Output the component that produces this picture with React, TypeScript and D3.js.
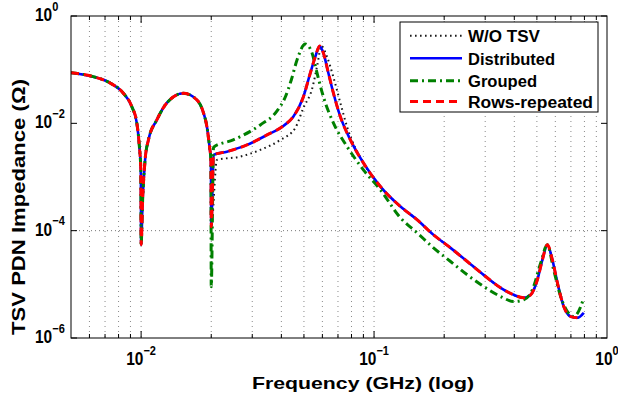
import React from "react";
import * as d3 from "d3";

const W = 618;
const H = 395;

const X_DOMAIN = [0.005, 1];
const Y_DOMAIN = [1e-6, 1];

const xTickValues = [0.01, 0.1, 1];
const xTickExponents = ["\u22122", "\u22121", "0"];
const yTickValues = [1, 1e-2, 1e-4, 1e-6];
const yTickExponents = ["0", "\u22122", "\u22124", "\u22126"];

const xTitle = "Frequency (GHz) (log)";
const yTitle = "TSV PDN Impedance (\u03A9)";

const seriesNames = ["W/O TSV", "Distributed", "Grouped", "Rows-repeated"];

// shared low-frequency part (all structures coincide below 20 MHz)
const commonFreq = [0.005, 0.00622, 0.00736, 0.00837, 0.00912, 0.00958, 0.00983, 0.00997, 0.01, 0.01015, 0.0104, 0.01075, 0.01168, 0.0129, 0.0152, 0.01735, 0.01853, 0.01916, 0.01966, 0.01993];
const commonZ = [0.0879, 0.0741, 0.0565, 0.0368, 0.0205, 0.0102, 0.00368, 0.00136, 5.5e-5, 3.75e-4, 0.00208, 0.00491, 0.0116, 0.024, 0.0363, 0.0273, 0.0156, 0.00868, 0.00368, 0.00208];

const woTsvFreq = [0.02, 0.02115, 0.02665, 0.03248, 0.03958, 0.04592, 0.0497, 0.05433, 0.05708, 0.0594, 0.06284, 0.06689, 0.07167, 0.0766, 0.09, 0.1065, 0.1299, 0.1532, 0.18, 0.213, 0.2513, 0.2953, 0.3495, 0.3975, 0.4388, 0.4702, 0.5024, 0.528, 0.5546, 0.5828, 0.6125, 0.652, 0.6985, 0.7464, 0.7946];
const woTsvZ = [1.18e-4, 0.00208, 0.0024, 0.0032, 0.00491, 0.00821, 0.01935, 0.0456, 0.1224, 0.2762, 0.1724, 0.0731, 0.024, 0.00857, 0.00183, 6.63e-4, 2.81e-4, 1.59e-4, 8.35e-5, 4.78e-5, 2.66e-5, 1.5e-5, 8.61e-6, 6.38e-6, 5.61e-6, 6.38e-6, 1.21e-5, 2.86e-5, 5.44e-5, 2.86e-5, 1.07e-5, 3.86e-6, 2.51e-6, 2.38e-6, 2.95e-6];

const distributedFreq = [0.02, 0.02046, 0.02335, 0.02847, 0.03471, 0.04077, 0.045, 0.0497, 0.05326, 0.05597, 0.05841, 0.06059, 0.06366, 0.06689, 0.07167, 0.07914, 0.09, 0.1065, 0.1299, 0.1532, 0.18, 0.213, 0.2513, 0.2953, 0.3495, 0.3975, 0.4388, 0.4702, 0.5024, 0.528, 0.5546, 0.5828, 0.6125, 0.652, 0.6985, 0.7464, 0.7946];
const distributedZ = [1.18e-4, 0.00258, 0.00297, 0.00396, 0.00608, 0.00894, 0.0133, 0.031, 0.0868, 0.1746, 0.2762, 0.2046, 0.0868, 0.0368, 0.0133, 0.00491, 0.00183, 6.63e-4, 2.81e-4, 1.59e-4, 8.35e-5, 4.78e-5, 2.66e-5, 1.5e-5, 8.61e-6, 6.38e-6, 5.61e-6, 6.38e-6, 1.21e-5, 2.86e-5, 5.44e-5, 2.86e-5, 1.07e-5, 3.86e-6, 2.51e-6, 2.38e-6, 2.95e-6];

const groupedFreq = [0.02, 0.02046, 0.02485, 0.03248, 0.03833, 0.04159, 0.04412, 0.04669, 0.0507, 0.05416, 0.05691, 0.06059, 0.06689, 0.0766, 0.09, 0.1065, 0.1299, 0.1532, 0.18, 0.213, 0.2513, 0.2953, 0.3495, 0.3975, 0.4388, 0.4783, 0.5192, 0.5546, 0.5903, 0.6328, 0.6762, 0.7196, 0.7714, 0.7946];
const groupedZ = [9.0e-6, 0.00359, 0.00491, 0.00934, 0.017, 0.031, 0.0643, 0.1516, 0.3011, 0.2046, 0.0868, 0.0314, 0.0102, 0.00368, 0.00136, 5.75e-4, 1.73e-4, 9.1e-5, 4.78e-5, 2.66e-5, 1.5e-5, 9.1e-6, 5.93e-6, 4.78e-6, 5.14e-6, 7.9e-6, 2.51e-5, 5.44e-5, 1.86e-5, 5.93e-6, 3.11e-6, 2.51e-6, 3.86e-6, 5.61e-6];

const rowsFreq = [0.02, 0.02046, 0.02335, 0.02847, 0.03471, 0.04077, 0.045, 0.0497, 0.05326, 0.05597, 0.05841, 0.06059, 0.06366, 0.06689, 0.07167, 0.07914, 0.09, 0.1065, 0.1299, 0.1532, 0.18, 0.213, 0.2513, 0.2953, 0.3495, 0.3975, 0.4388, 0.4702, 0.5024, 0.528, 0.5546, 0.5828, 0.6125, 0.652, 0.6985, 0.7464];
const rowsZ = [1.18e-4, 0.00258, 0.00297, 0.00396, 0.00608, 0.00894, 0.0133, 0.031, 0.0868, 0.1746, 0.2762, 0.2046, 0.0868, 0.0368, 0.0133, 0.00491, 0.00183, 6.63e-4, 2.81e-4, 1.59e-4, 8.35e-5, 4.78e-5, 2.66e-5, 1.5e-5, 8.61e-6, 6.38e-6, 5.61e-6, 6.38e-6, 1.21e-5, 2.86e-5, 5.44e-5, 2.86e-5, 1.07e-5, 3.86e-6, 2.51e-6, 2.38e-6];

const STYLES = [
  { color: "#1a1a1a", width: 2, dash: "1.6,3.4" },
  { color: "#0000ff", width: 2.6, dash: "none" },
  { color: "#008000", width: 3, dash: "8,4,2,4" },
  { color: "#ff0000", width: 3, dash: "8,5" },
];

const FONT = "'Liberation Sans', Arial, Helvetica, sans-serif";

function zip(f: number[], z: number[]): [number, number][] {
  return f.map((v, i) => [v, z[i]] as [number, number]);
}

export default function App() {
  const left = 71, right = 607, top = 16, bottom = 338;
  const x = d3.scaleLog().domain(X_DOMAIN).range([left, right]);
  const y = d3.scaleLog().domain(Y_DOMAIN).range([bottom, top]);
  const line = d3
    .line<[number, number]>()
    .x((d) => x(d[0]))
    .y((d) => y(d[1]))
    .curve(d3.curveMonotoneX);

  const series = [
    zip(commonFreq.concat(woTsvFreq), commonZ.concat(woTsvZ)),
    zip(commonFreq.concat(distributedFreq), commonZ.concat(distributedZ)),
    zip(commonFreq.concat(groupedFreq), commonZ.concat(groupedZ)),
    zip(commonFreq.concat(rowsFreq), commonZ.concat(rowsZ)),
  ];

  const xAll: number[] = [];
  for (let e = -3; e <= -1; e++) {
    for (let m = 1; m <= 9; m++) {
      const v = m * Math.pow(10, e);
      if (v > 0.00501 && v < 0.999) xAll.push(v);
    }
  }
  const isMajor = (v: number) => xTickValues.some((t) => Math.abs(t - v) / t < 1e-6);

  const legX = 400, legY = 22, legW = 198, legH = 90;
  const legRows = [35.7, 58.3, 80.7, 101.5];
  const legWidths = [72, 87, 69, 125];

  return (
    <svg width={W} height={H} style={{ position: "absolute", left: 0, top: 0, background: "#fff" }} fontFamily={FONT}>
      <defs>
        <clipPath id="plotclip">
          <rect x={left} y={top} width={right - left} height={bottom - top} />
        </clipPath>
      </defs>
      <rect x={0} y={0} width={W} height={H} fill="#fff" />
      {/* vertical grid */}
      {xAll.map((v, i) => (
        <line key={"g" + i} x1={x(v)} x2={x(v)} y1={top} y2={bottom} stroke="#8a8a8a" strokeWidth={1} strokeDasharray="1,4" />
      ))}
      {/* horizontal grid at 1e-4 */}
      <line x1={left} x2={right} y1={y(1e-4)} y2={y(1e-4)} stroke="#777" strokeWidth={1} strokeDasharray="1,3" />

      {/* curves */}
      <g clipPath="url(#plotclip)">
        {series.map((s, i) => (
          <path key={"s" + i} d={line(s) || ""} fill="none" stroke={STYLES[i].color} strokeWidth={STYLES[i].width} strokeDasharray={STYLES[i].dash} strokeLinejoin="round" />
        ))}
      </g>

      {/* axes box */}
      <rect x={left} y={top} width={right - left} height={bottom - top} fill="none" stroke="#000" strokeWidth={1} />
      {/* x ticks */}
      {xAll.map((v, i) => {
        const len = isMajor(v) ? 7 : 4;
        return (
          <g key={"t" + i}>
            <line x1={x(v)} x2={x(v)} y1={bottom} y2={bottom - len} stroke="#000" />
            <line x1={x(v)} x2={x(v)} y1={top} y2={top + len} stroke="#000" />
          </g>
        );
      })}
      {/* y ticks */}
      {yTickValues.map((v, i) => (
        <g key={"yt" + i}>
          <line x1={left} x2={left + 6} y1={y(v)} y2={y(v)} stroke="#000" />
          <line x1={right} x2={right - 6} y1={y(v)} y2={y(v)} stroke="#000" />
        </g>
      ))}

      {/* x tick labels */}
      {xTickValues.map((v, i) => (
        <text key={"xl" + i} transform={`translate(${x(v)},365) scale(1,1.15)`} textAnchor="middle" fontSize={15.5} fontWeight="bold" fill="#000">
          <tspan>10</tspan>
          <tspan dy={-9} fontSize={11}>{xTickExponents[i]}</tspan>
        </text>
      ))}
      {/* y tick labels */}
      {yTickValues.map((v, i) => (
        <text key={"yl" + i} transform={`translate(35,${y(v) + 5}) scale(1,1.15)`} textAnchor="start" fontSize={15.5} fontWeight="bold" fill="#000">
          <tspan>10</tspan>
          <tspan dy={-9} fontSize={11}>{yTickExponents[i]}</tspan>
        </text>
      ))}

      {/* axis titles */}
      <text x={363} y={389} textAnchor="middle" fontSize={17} fontWeight="bold" textLength={222} lengthAdjust="spacingAndGlyphs">
        {xTitle}
      </text>
      <text transform={`translate(25,${207}) rotate(-90)`} textAnchor="middle" fontSize={18} fontWeight="bold" textLength={256} lengthAdjust="spacingAndGlyphs">
        {yTitle}
      </text>

      {/* legend */}
      <rect x={legX} y={legY} width={legW} height={legH} fill="#fff" stroke="#000" strokeWidth={1} />
      {seriesNames.map((name, i) => (
        <g key={"lg" + i}>
          <line x1={410} x2={462} y1={legRows[i]} y2={legRows[i]} stroke={STYLES[i].color} strokeWidth={STYLES[i].width} strokeDasharray={STYLES[i].dash} />
          <text x={468} y={legRows[i] + 6.5} fontSize={16} fontWeight="bold" textLength={legWidths[i]} lengthAdjust="spacingAndGlyphs">
            {name}
          </text>
        </g>
      ))}
    </svg>
  );
}
